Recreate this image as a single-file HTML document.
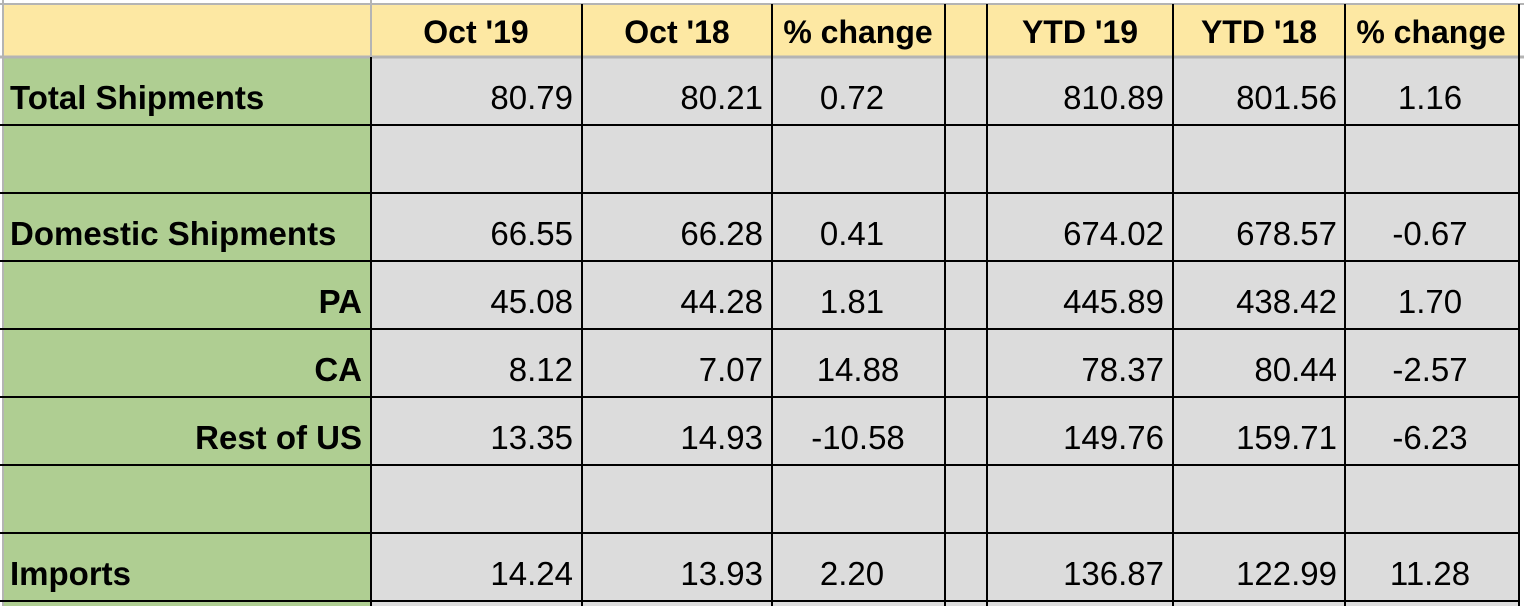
<!DOCTYPE html>
<html><head><style>
html,body{margin:0;padding:0;background:#fff;}
svg text{font-family:"Liberation Sans",sans-serif;}
</style></head><body>
<svg width="1524" height="606" xmlns="http://www.w3.org/2000/svg">
<rect x="0" y="0" width="1524" height="606" fill="#fff"/>
<rect x="3" y="4" width="1516" height="53" fill="#fde8a3"/>
<rect x="3" y="57" width="368" height="549" fill="#afce92"/>
<rect x="371" y="57" width="1148" height="549" fill="#dcdcdc"/>
<g stroke="#b4b4b4" stroke-width="2">
<line x1="0" y1="4" x2="1524" y2="4"/>
<line x1="0" y1="57" x2="1524" y2="57" stroke-width="3"/>
<line x1="3" y1="0" x2="3" y2="606"/>
<line x1="371" y1="0" x2="371" y2="57"/>
</g>
<g stroke="#000" stroke-width="2">
<line x1="371" y1="57" x2="371" y2="606"/>
<line x1="582" y1="4" x2="582" y2="606"/>
<line x1="772" y1="4" x2="772" y2="606"/>
<line x1="945" y1="4" x2="945" y2="606"/>
<line x1="987" y1="4" x2="987" y2="606"/>
<line x1="1173" y1="4" x2="1173" y2="606"/>
<line x1="1345" y1="4" x2="1345" y2="606"/>
<line x1="1519" y1="4" x2="1519" y2="606"/>
<line x1="0" y1="125" x2="1519" y2="125"/>
<line x1="0" y1="193" x2="1519" y2="193"/>
<line x1="0" y1="261" x2="1519" y2="261"/>
<line x1="0" y1="329" x2="1519" y2="329"/>
<line x1="0" y1="397" x2="1519" y2="397"/>
<line x1="0" y1="465" x2="1519" y2="465"/>
<line x1="0" y1="533" x2="1519" y2="533"/>
<line x1="0" y1="601" x2="1519" y2="601"/>
</g>
<g font-weight="bold" font-size="32" text-anchor="middle" fill="#000">
<text x="476" y="43">Oct '19</text>
<text x="677" y="43">Oct '18</text>
<text x="858" y="43">% change</text>
<text x="1080" y="43">YTD '19</text>
<text x="1259" y="43">YTD '18</text>
<text x="1431" y="43">% change</text>
</g>
<g font-weight="bold" font-size="33" fill="#000">
<text x="10" y="109">Total Shipments</text>
<text x="10" y="245">Domestic Shipments</text>
<text x="362" y="313" text-anchor="end">PA</text>
<text x="362" y="381" text-anchor="end">CA</text>
<text x="362" y="449" text-anchor="end">Rest of US</text>
<text x="10" y="585">Imports</text>
</g>
<g font-size="33" fill="#000">
<g text-anchor="end">
<text x="573" y="109">80.79</text><text x="763" y="109">80.21</text><text x="1164" y="109">810.89</text><text x="1337" y="109">801.56</text>
<text x="573" y="245">66.55</text><text x="763" y="245">66.28</text><text x="1164" y="245">674.02</text><text x="1337" y="245">678.57</text>
<text x="573" y="313">45.08</text><text x="763" y="313">44.28</text><text x="1164" y="313">445.89</text><text x="1337" y="313">438.42</text>
<text x="573" y="381">8.12</text><text x="763" y="381">7.07</text><text x="1164" y="381">78.37</text><text x="1337" y="381">80.44</text>
<text x="573" y="449">13.35</text><text x="763" y="449">14.93</text><text x="1164" y="449">149.76</text><text x="1337" y="449">159.71</text>
<text x="573" y="585">14.24</text><text x="763" y="585">13.93</text><text x="1164" y="585">136.87</text><text x="1337" y="585">122.99</text>
</g>
<g text-anchor="middle">
<text x="852" y="109">0.72</text><text x="1430" y="109">1.16</text>
<text x="852" y="245">0.41</text><text x="1430" y="245">-0.67</text>
<text x="852" y="313">1.81</text><text x="1430" y="313">1.70</text>
<text x="858" y="381">14.88</text><text x="1430" y="381">-2.57</text>
<text x="858" y="449">-10.58</text><text x="1430" y="449">-6.23</text>
<text x="852" y="585">2.20</text><text x="1430" y="585">11.28</text>
</g>
</g>
</svg>
</body></html>
